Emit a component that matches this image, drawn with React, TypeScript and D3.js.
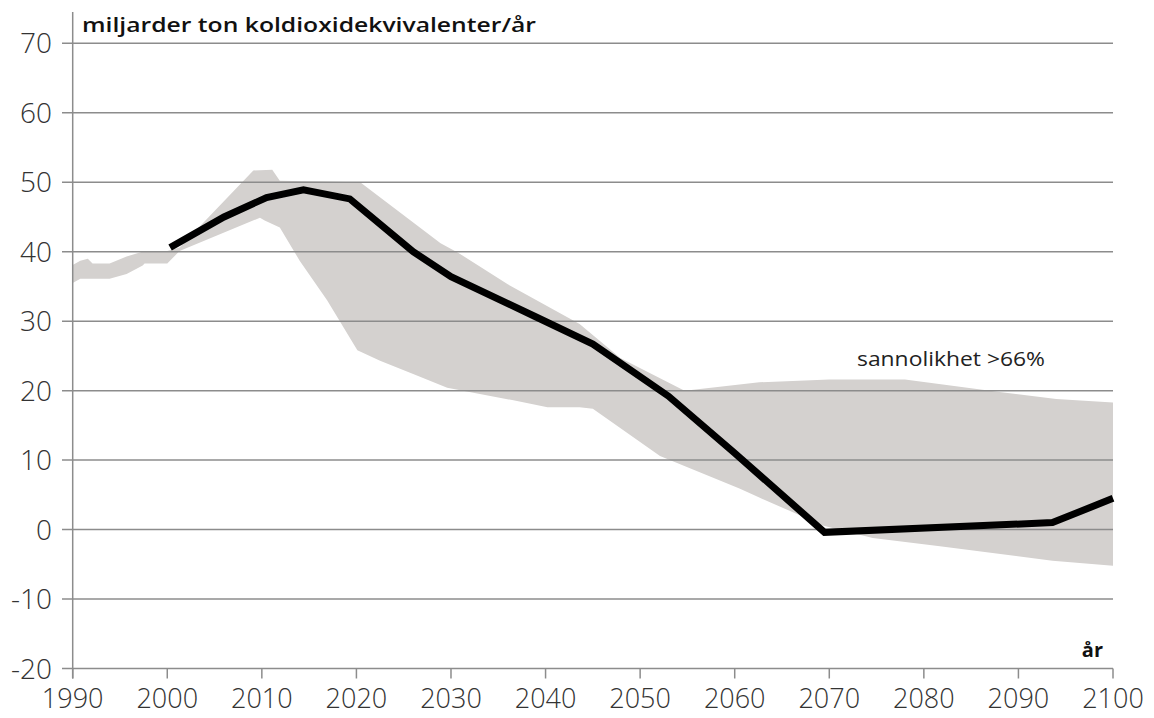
import React from 'react';
import * as d3 from 'd3';

// emissions path (black line), miljarder ton CO2e / år
const lineYears = [2000.3, 2006, 2010.5, 2014.4, 2019.3, 2026, 2030, 2039, 2045, 2053, 2060, 2069.5, 2093.6, 2100];
const lineValues = [40.6, 45.0, 47.8, 48.9, 47.6, 40.0, 36.4, 30.6, 26.7, 19.2, 11.0, -0.4, 1.0, 4.5];

// probability band (>66%), upper edge
const upperYears = [1990, 1990.8, 1991.6, 1992.1, 1993.9, 1995.7, 1997.6, 2000, 2001.3, 2009.1, 2011.1, 2011.9, 2020.4, 2028.9, 2030.7, 2036, 2043.6, 2047.9, 2054.7, 2062.6, 2070, 2078, 2082, 2088, 2094, 2100];
const upperValues = [38.1, 38.7, 39.0, 38.3, 38.3, 39.3, 40.1, 40.1, 40.6, 51.7, 51.8, 50.2, 50.0, 41.2, 39.9, 35.3, 29.6, 24.7, 20.0, 21.2, 21.6, 21.6, 20.9, 19.8, 18.8, 18.3];

// lower edge
const lowerYears = [1990, 1990.8, 1993.9, 1995.7, 1997.4, 1997.6, 2000, 2001.3, 2009.8, 2010.3, 2011.9, 2014, 2016.9, 2020.1, 2022.5, 2026, 2029.6, 2036.6, 2040.2, 2043.6, 2045, 2052.1, 2060.5, 2062.6, 2065.8, 2069.3, 2074.6, 2081.7, 2093.6, 2100];
const lowerValues = [35.5, 36.1, 36.1, 36.8, 38.0, 38.3, 38.3, 40.1, 44.9, 44.5, 43.5, 38.7, 33.0, 25.8, 24.3, 22.4, 20.4, 18.6, 17.6, 17.6, 17.4, 10.6, 5.9, 4.6, 2.7, 0.6, -1.2, -2.4, -4.5, -5.2];

const yTicks = [70, 60, 50, 40, 30, 20, 10, 0, -10, -20];
const xTicks = [1990, 2000, 2010, 2020, 2030, 2040, 2050, 2060, 2070, 2080, 2090, 2100];

const W = 1154, H = 718;

export default function App() {
  const x = d3.scaleLinear().domain([1990, 2100]).range([72.7, 1113]);
  const y = d3.scaleLinear().domain([-20, 70]).range([668.5, 43.3]);

  const upper = upperYears.map((yr, i) => [yr, upperValues[i]] as [number, number]);
  const lower = lowerYears.map((yr, i) => [yr, lowerValues[i]] as [number, number]);
  const poly = d3.line<[number, number]>().x(d => x(d[0])).y(d => y(d[1]));
  const bandPath = poly([...upper, ...lower.slice().reverse()]) + 'Z';

  const linePath = d3.line<number>()
    .x((d, i) => x(lineYears[i]))
    .y(d => y(d))(lineValues);

  const grid = '#8c8c8c';
  const font = '"Open Sans", "DejaVu Sans", sans-serif';

  return (
    <svg width={W} height={H} style={{ position: 'absolute', left: 0, top: 0, background: '#fff' }}>
      <path d={bandPath} fill="#d4d1cf" />

      {/* gridlines + y ticks */}
      {yTicks.map(t => (
        <g key={t}>
          <line x1={62} x2={x(2100)} y1={y(t)} y2={y(t)} stroke={grid} strokeWidth={1.5} />
          <text x={52} y={y(t)} dy="0.36em" textAnchor="end" fontFamily={font} fontWeight={300}
            fontSize={28} fill="#333">{t}</text>
        </g>
      ))}

      {/* y axis */}
      <line x1={x(1990)} x2={x(1990)} y1={12} y2={y(-20) + 10} stroke={grid} strokeWidth={1.5} />

      {/* x ticks */}
      {xTicks.map(t => (
        <g key={t}>
          <line x1={x(t)} x2={x(t)} y1={y(-20)} y2={y(-20) + 10} stroke={grid} strokeWidth={1.5} />
          <text x={x(t)} y={708} textAnchor="middle" fontFamily={font} fontWeight={300}
            fontSize={27} fill="#333">{t}</text>
        </g>
      ))}

      <path d={linePath || ''} fill="none" stroke="#000" strokeWidth={7} strokeLinejoin="miter" />

      <text x={82} y={32} fontFamily={font} fontWeight={600} fontSize={20} fill="#111"
        textLength={454} lengthAdjust="spacingAndGlyphs">miljarder ton koldioxidekvivalenter/år</text>
      <text x={857} y={366} fontFamily={font} fontSize={20} fill="#222"
        textLength={188} lengthAdjust="spacingAndGlyphs">sannolikhet &gt;66%</text>
      <text x={1103} y={657} textAnchor="end" fontFamily={font} fontWeight={700} fontSize={20} fill="#111">år</text>
    </svg>
  );
}
